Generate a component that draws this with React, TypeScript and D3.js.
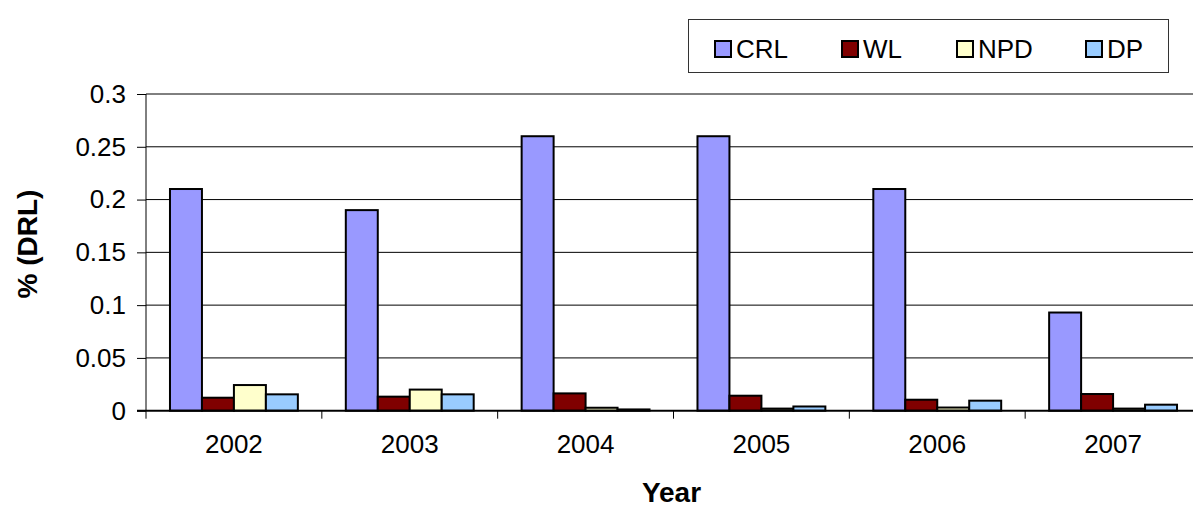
import React, { useEffect, useRef } from "react";
import * as d3 from "d3";

const years = ["2002", "2003", "2004", "2005", "2006", "2007"];
const seriesNames = ["CRL", "WL", "NPD", "DP"];
const seriesColors = ["#9999FF", "#800000", "#FFFFCC", "#99CCFF"];
const crl = [0.21, 0.19, 0.26, 0.26, 0.21, 0.093];
const wl = [0.0123, 0.0133, 0.0164, 0.0142, 0.0104, 0.0158];
const npd = [0.0243, 0.02, 0.0028, 0.002, 0.003, 0.002];
const dp = [0.0155, 0.0155, 0.0012, 0.004, 0.0095, 0.0057];
const yTicks = [0, 0.05, 0.1, 0.15, 0.2, 0.25, 0.3];

const App = () => {
  const ref = useRef<SVGSVGElement>(null);

  useEffect(() => {
    const svg = d3.select(ref.current);
    svg.selectAll("*").remove();

    const width = 1193;
    const height = 510;
    const left = 146;
    const right = 1201;
    const top = 94;
    const bottom = 410.7;
    const font = "Arial, 'Liberation Sans', sans-serif";

    const values = [crl, wl, npd, dp];

    const x0 = d3.scaleBand<string>().domain(years).range([left, right]).padding(0);
    const gap = (x0.bandwidth() / 5.5) * 0.75;
    const x1 = d3.scaleBand<string>().domain(seriesNames).range([gap, x0.bandwidth() - gap]).padding(0);
    const y = d3.scaleLinear().domain([0, 0.3]).range([bottom, top]);

    svg.attr("width", width).attr("height", height);

    // gridlines
    svg.append("g")
      .selectAll("line")
      .data(yTicks.slice(1))
      .enter()
      .append("line")
      .attr("x1", left)
      .attr("x2", right)
      .attr("y1", d => y(d))
      .attr("y2", d => y(d))
      .attr("stroke", "#000")
      .attr("stroke-width", 1);

    // bars
    years.forEach((yr, i) => {
      const g = svg.append("g").attr("transform", `translate(${x0(yr)},0)`);
      seriesNames.forEach((s, j) => {
        const v = values[j][i];
        g.append("rect")
          .attr("x", x1(s)!)
          .attr("y", y(v))
          .attr("width", x1.bandwidth())
          .attr("height", bottom - y(v))
          .attr("fill", seriesColors[j])
          .attr("stroke", "#000")
          .attr("stroke-width", 2);
      });
    });

    // y axis
    const yAxis = svg.append("g")
      .attr("transform", `translate(${left},0)`)
      .call(d3.axisLeft(y).tickValues(yTicks).tickSize(9).tickPadding(11).tickFormat(d => String(+d)));
    yAxis.select(".domain").attr("stroke", "#000").attr("d", `M0,${top}V${bottom}`);
    yAxis.selectAll("line").attr("stroke", "#000");
    yAxis.selectAll("text").attr("font-family", font).attr("font-size", 26).attr("fill", "#000");

    // x axis
    const xAxis = svg.append("g")
      .attr("transform", `translate(0,${bottom})`)
      .call(d3.axisBottom(x0).tickSize(0).tickPadding(24));
    xAxis.select(".domain").attr("stroke", "#000").attr("stroke-width", 2).attr("d", `M${left - 9},0H${right}`);
    xAxis.selectAll("text").attr("font-family", font).attr("font-size", 26).attr("fill", "#000");
    svg.append("g")
      .selectAll("line")
      .data(years.concat(["end"]))
      .enter()
      .append("line")
      .attr("x1", (d, i) => left + i * x0.bandwidth())
      .attr("x2", (d, i) => left + i * x0.bandwidth())
      .attr("y1", bottom)
      .attr("y2", bottom + 8)
      .attr("stroke", "#000");

    // axis titles
    svg.append("text")
      .attr("x", (left + right) / 2 - 2)
      .attr("y", 502)
      .attr("text-anchor", "middle")
      .attr("font-family", font)
      .attr("font-weight", "bold")
      .attr("font-size", 28)
      .text("Year");

    svg.append("text")
      .attr("transform", `translate(37,${244}) rotate(-90)`)
      .attr("text-anchor", "middle")
      .attr("font-family", font)
      .attr("font-weight", "bold")
      .attr("font-size", 28)
      .text("% (DRL)");

    // legend
    const legend = svg.append("g");
    legend.append("rect")
      .attr("x", 688.5)
      .attr("y", 19.5)
      .attr("width", 480)
      .attr("height", 53)
      .attr("fill", "#fff")
      .attr("stroke", "#333")
      .attr("stroke-width", 1);
    const legendX = [715, 842, 957, 1086];
    seriesNames.forEach((s, j) => {
      legend.append("rect")
        .attr("x", legendX[j])
        .attr("y", 41)
        .attr("width", 16)
        .attr("height", 16)
        .attr("fill", seriesColors[j])
        .attr("stroke", "#000")
        .attr("stroke-width", 2);
      legend.append("text")
        .attr("x", legendX[j] + 21)
        .attr("y", 58)
        .attr("font-family", font)
        .attr("font-size", 26)
        .text(s);
    });
  }, []);

  return <svg ref={ref} style={{ position: "absolute", left: 0, top: 0 }}></svg>;
};

export default App;
